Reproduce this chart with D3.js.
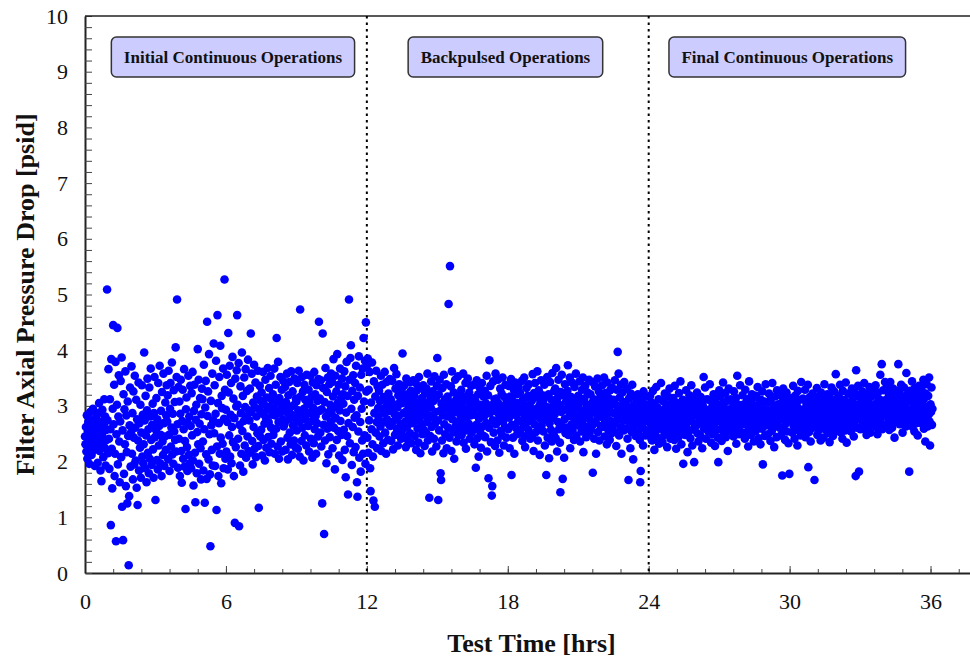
<!DOCTYPE html>
<html>
<head>
<meta charset="utf-8">
<script src="https://cdn.jsdelivr.net/npm/d3@7"></script>
<style>
  body { margin: 0; background: #fff; }
  text { font-family: "Liberation Serif", "Times New Roman", serif; }
</style>
</head>
<body>
<svg id="chart" width="970" height="660"></svg>
<script>
// Operating phases of the filter test
const phaseNames = ["Initial Continuous Operations", "Backpulsed Operations", "Final Continuous Operations"];
const phaseStart = [0, 12, 24];      // hrs
const phaseEnd = [12, 24, 36.1];     // hrs
const phaseBoundaries = [12, 24];    // hrs
const phaseLabelAt = [6.3, 17.9, 29.9];

// Axis ticks
const xTicks = [0, 6, 12, 18, 24, 30, 36];
const yTicks = [0, 1, 2, 3, 4, 5, 6, 7, 8, 9, 10];

// Filter axial pressure drop [psid], logged at a fixed rate through each phase
const initialDp = [
  2.45,2.31,2.62,2.18,2.83,2.05,2.54,2.71,2.38,1.96,2.47,2.89,2.26,2.58,2.12,2.74,2.41,2.95,2.33,2.21,2.66,1.92,2.52,2.79,2.37,
  2.28,2.61,1.98,2.87,2.43,3.05,2.19,2.56,1.84,2.72,1.65,2.49,2.93,2.34,2.08,2.66,3.12,2.25,2.81,1.93,2.57,2.39,5.09,2.74,2.15,
  3.66,2.41,1.87,3.12,2.58,0.86,3.84,2.23,1.52,2.95,4.45,2.67,3.38,1.74,2.14,3.79,0.57,2.49,3.02,4.40,1.95,2.81,3.55,2.36,1.63,
  2.72,3.45,2.08,3.87,1.19,2.56,0.59,3.21,1.78,2.94,2.31,3.62,1.56,2.83,2.17,1.25,3.08,2.46,0.14,1.38,2.65,3.33,1.91,2.52,3.71,
  2.14,2.87,1.68,3.26,2.43,1.95,3.54,2.61,2.02,3.11,1.53,2.76,1.22,2.38,3.42,1.84,2.69,2.25,3.02,1.71,2.52,3.37,2.09,2.84,1.97,
  2.31,3.96,2.74,1.88,3.18,2.47,1.63,2.92,3.49,2.16,2.58,1.79,3.33,2.05,2.81,3.67,2.39,1.94,2.66,3.04,2.22,1.71,2.87,3.52,2.44,
  1.31,2.57,3.14,2.03,2.76,1.86,3.41,2.29,2.64,3.72,1.97,2.48,2.91,1.74,3.25,2.36,2.12,3.58,2.69,1.92,2.45,3.06,2.21,2.83,3.37,
  2.72,3.19,2.04,3.63,2.48,1.83,2.95,3.41,2.27,2.61,3.78,2.13,2.86,1.96,3.28,2.54,3.07,2.39,4.05,2.18,3.52,4.91,2.67,1.89,3.34,
  2.41,3.08,1.74,2.86,3.47,2.19,1.62,2.73,3.29,2.05,2.58,3.66,1.91,2.37,1.15,2.94,3.15,2.26,1.83,2.69,3.54,2.12,2.81,1.97,3.36,
  2.64,1.88,3.23,2.47,3.61,2.02,1.57,2.91,3.38,2.16,1.27,2.75,3.02,1.79,2.53,4.02,2.31,3.47,1.96,2.68,3.14,2.24,1.68,2.85,3.31,
  3.12,2.36,1.84,3.74,2.58,1.26,2.97,3.45,2.13,1.69,4.51,2.82,3.26,2.04,3.93,2.49,1.77,0.48,3.09,2.65,2.21,3.58,1.93,2.74,4.12,
  2.51,3.37,1.92,2.86,3.81,1.13,2.27,4.63,3.05,1.74,2.69,3.52,2.14,4.08,2.43,1.61,3.18,2.96,2.32,3.67,1.88,2.77,5.27,3.29,2.05,
  2.93,2.18,3.56,2.71,1.86,4.31,3.24,2.47,3.72,2.09,2.84,3.41,1.97,2.62,3.88,2.35,3.13,1.74,2.78,0.90,3.49,2.26,2.99,3.64,4.63,
  3.02,2.41,3.77,0.84,2.66,1.93,3.35,2.87,2.14,3.96,2.55,3.18,1.82,2.73,3.51,2.29,2.98,3.66,2.07,2.81,3.27,2.45,3.83,2.19,2.92,
  2.74,3.31,2.16,4.30,2.89,3.58,2.37,1.95,3.06,2.62,3.74,2.23,2.97,3.42,2.08,2.81,3.17,2.51,3.63,2.28,1.17,2.94,3.36,2.45,3.09,
  2.57,3.24,2.11,2.86,3.61,2.39,3.03,2.68,2.02,3.47,2.79,2.25,3.15,2.93,3.68,2.44,2.71,3.32,2.17,2.99,3.54,2.61,2.32,3.11,2.84,
  3.21,2.48,2.95,3.67,2.14,2.83,3.38,2.59,4.22,3.06,2.27,3.79,2.71,2.05,3.14,2.88,3.52,2.36,2.97,3.29,2.18,2.76,3.45,2.63,3.02,
  2.68,3.34,2.21,3.07,2.89,3.58,2.43,2.04,3.19,2.76,3.43,2.52,2.97,2.31,3.62,2.84,2.12,3.26,2.65,3.01,2.38,3.49,2.79,2.26,3.13,
  3.08,2.56,3.41,2.23,2.92,3.63,2.71,2.09,4.73,3.17,2.84,2.37,3.52,2.61,3.26,2.02,2.95,3.38,2.47,3.11,2.75,2.29,3.56,2.88,3.03,
  2.64,3.29,2.18,3.05,2.87,3.54,2.41,3.16,2.73,2.07,3.42,2.96,2.33,3.61,2.58,3.21,2.82,2.14,3.37,2.69,3.09,2.45,3.48,4.51,2.91,
  3.13,2.52,3.46,2.27,2.94,1.25,4.30,3.32,2.66,0.70,3.07,2.38,3.68,2.81,1.97,3.25,2.59,3.51,2.13,2.89,3.39,2.44,3.02,2.71,3.58,
  2.86,3.43,2.24,3.17,3.84,2.61,2.97,1.86,3.54,2.78,3.26,2.39,3.93,3.05,2.55,3.38,2.11,2.92,3.67,2.73,3.14,2.48,3.49,2.03,3.21,
  3.04,2.57,3.62,2.21,3.35,1.72,2.88,3.79,2.46,3.18,1.41,2.69,4.91,3.47,2.33,3.86,4.09,2.95,1.94,3.27,2.62,3.55,2.17,3.11,2.79,
  3.41,2.26,3.72,2.83,1.63,1.37,3.18,2.54,3.89,2.07,3.33,2.71,1.82,3.56,2.95,2.38,3.67,2.14,4.22,3.08,2.47,3.81,1.96,4.50,3.26
];
const backpulsedDp = [
  3.72,2.43,3.85,2.16,3.29,2.74,3.61,1.88,1.47,3.06,2.58,3.78,2.31,2.09,1.30,3.44,2.87,1.19,3.17,2.52,3.63,2.71,2.24,3.35,2.96,
  2.81,3.27,2.45,3.09,2.63,3.54,2.19,2.94,3.38,2.71,2.33,3.16,2.87,3.61,2.52,2.98,2.14,3.43,2.76,3.05,2.39,3.22,2.67,2.91,3.48,
  2.64,3.12,2.37,2.93,3.45,2.71,2.22,3.03,3.68,2.85,2.48,3.31,2.76,3.57,2.59,2.97,2.29,3.19,2.82,3.39,2.53,3.08,2.68,2.41,3.26,
  3.05,3.94,2.58,2.87,3.36,2.44,3.13,2.72,2.26,3.49,2.91,2.63,3.21,2.38,3.02,2.79,3.42,2.51,2.95,3.27,2.33,2.84,3.11,2.69,3.46,
  2.77,3.18,2.46,2.99,3.41,2.21,2.86,3.28,2.59,3.06,2.34,3.52,2.73,2.92,2.15,3.33,2.64,3.14,2.49,2.83,3.37,2.57,3.01,2.28,3.23,
  2.94,2.52,3.31,2.71,3.58,2.38,3.07,2.83,1.35,3.19,2.46,2.97,3.44,2.62,2.18,3.26,2.79,3.09,2.41,3.53,2.68,2.89,3.14,2.27,3.36,
  3.86,2.74,1.31,3.21,2.56,3.47,2.91,1.79,1.67,3.04,2.38,3.32,2.83,2.15,3.56,2.67,3.12,2.49,2.96,3.39,2.24,2.81,3.17,2.61,4.83,
  3.08,2.43,5.51,2.87,3.35,2.19,3.62,2.76,2.98,2.53,3.24,2.05,2.89,3.47,2.64,3.11,2.36,3.01,2.72,3.53,2.47,2.93,3.19,2.58,2.84,
  2.71,3.29,2.48,3.06,2.87,3.58,2.34,2.95,3.17,2.62,3.41,2.23,2.79,3.12,2.56,3.49,2.91,2.68,3.24,2.41,3.03,2.83,3.36,2.52,2.97,
  3.14,2.57,2.92,3.38,2.31,2.84,3.09,1.89,2.66,3.46,2.42,2.98,3.21,2.09,2.77,3.33,2.54,3.02,2.25,2.88,3.41,2.63,2.95,3.17,2.46,
  2.82,3.27,2.44,3.05,2.69,3.54,2.18,2.93,3.19,1.70,2.61,3.82,2.87,3.36,2.35,3.01,1.39,1.56,2.74,3.44,2.52,2.96,3.12,2.28,3.58,
  2.67,3.13,2.89,2.38,3.47,2.76,3.04,2.16,2.93,3.31,2.55,2.84,3.22,2.47,3.51,2.71,2.99,2.29,3.16,2.62,3.38,2.81,2.43,3.07,2.91,
  3.02,2.58,3.36,2.79,2.24,3.17,2.91,3.48,1.76,2.66,3.09,2.43,2.87,3.29,2.14,2.97,3.42,2.61,2.83,3.21,2.49,3.05,2.72,3.34,2.56,
  2.88,3.24,2.51,3.06,2.73,3.45,2.37,2.95,3.13,2.62,3.51,2.84,2.26,3.01,2.69,3.32,2.47,2.92,3.18,2.57,3.39,2.78,2.99,2.41,3.11,
  2.73,3.09,2.46,3.57,2.86,2.19,3.23,2.67,3.41,2.94,2.53,3.15,2.81,3.62,2.38,2.97,3.28,2.59,2.12,3.04,2.77,3.46,2.65,2.89,3.19,
  3.07,2.54,2.91,3.38,2.29,3.16,2.75,1.76,2.98,3.52,2.43,2.84,3.21,2.06,2.69,3.43,2.92,2.57,3.11,2.36,3.59,2.78,3.01,2.48,3.27,
  2.85,3.31,2.42,3.68,2.97,2.18,3.14,2.71,3.47,2.58,3.02,2.34,1.45,3.25,2.89,3.56,2.63,1.69,2.94,3.19,2.07,2.76,3.39,2.51,3.08,
  2.93,2.61,3.27,3.73,2.48,3.04,2.82,3.51,2.24,2.97,3.16,2.67,3.42,2.55,2.88,3.09,2.39,3.34,2.74,2.99,3.58,2.46,3.12,2.81,2.65,
  3.18,2.72,2.95,3.44,2.36,3.07,2.83,2.54,3.29,2.68,3.51,2.17,2.91,3.13,2.59,3.36,2.79,2.44,3.02,2.87,3.24,2.63,2.98,3.47,2.51,
  2.76,3.21,2.58,3.04,2.89,3.43,1.80,2.67,3.12,2.41,2.96,3.35,2.72,2.14,3.07,2.84,3.49,2.53,2.99,3.26,2.38,2.81,3.16,2.64,3.03,
  2.94,3.37,2.62,3.09,2.78,3.51,2.45,2.92,3.23,2.69,3.04,2.31,3.42,2.86,2.57,3.14,2.97,2.39,3.28,2.73,3.06,2.51,3.33,2.88,2.66,
  3.11,2.54,2.87,3.46,2.69,3.02,2.28,3.29,2.76,3.97,2.93,3.58,2.47,3.15,2.82,2.61,3.38,2.14,2.99,3.24,2.73,3.07,2.56,3.43,2.88,
  2.83,3.06,2.59,2.94,3.31,2.41,2.77,1.67,3.13,2.68,2.97,2.24,3.22,2.86,2.53,3.38,2.72,2.04,3.01,2.63,2.91,3.17,2.46,2.79,3.09,
  2.68,2.97,3.21,2.52,2.84,3.08,2.39,1.63,1.83,2.76,3.14,2.61,2.93,2.29,3.26,2.71,2.88,3.03,2.47,2.81,3.17,2.56,2.95,2.74,3.02
];
const finalDp = [
  2.71,2.94,2.46,3.18,2.83,2.57,3.06,2.38,2.89,3.27,2.64,2.77,2.21,3.01,2.52,2.86,3.34,2.69,2.43,2.97,2.75,3.12,2.32,2.81,2.59,
  2.88,3.41,2.62,2.79,2.35,3.09,2.71,2.93,2.48,3.22,2.84,2.56,3.03,2.67,2.26,2.91,3.17,2.74,2.53,3.31,2.82,2.41,2.98,2.65,3.07,
  2.76,2.52,3.14,2.87,2.39,3.36,2.68,2.95,2.23,2.81,3.05,2.61,2.92,2.44,3.23,2.73,2.57,3.44,2.85,2.31,2.99,2.66,3.11,1.96,2.78,
  3.02,2.69,2.48,2.93,3.28,2.61,2.84,2.17,3.07,2.75,2.54,3.19,2.88,2.42,2.96,3.37,2.72,2.29,2.83,3.13,2.58,1.99,2.91,2.67,3.04,
  2.64,2.97,3.24,2.51,2.82,2.36,3.08,2.74,2.93,2.47,3.16,2.69,2.87,2.24,3.01,2.78,3.52,2.59,2.95,3.33,2.63,2.41,2.89,3.12,2.76,
  2.86,2.54,3.11,2.73,3.39,2.62,2.95,2.34,2.81,3.06,2.49,2.77,3.21,2.66,2.92,2.28,3.14,2.71,2.57,3.03,2.84,2.43,1.99,2.97,3.28,
  2.79,3.17,2.58,2.91,2.37,3.04,2.68,3.42,2.85,2.52,2.96,2.74,3.23,2.44,2.88,3.09,2.61,2.19,2.83,3.31,2.67,2.94,2.55,3.12,2.72,
  2.93,2.61,3.07,2.78,2.45,3.26,2.84,2.57,2.99,3.14,2.32,2.71,3.54,2.87,2.64,3.02,2.49,2.91,3.37,2.76,2.53,2.96,2.68,3.19,2.82,
  2.67,3.03,2.86,2.41,3.29,2.74,2.96,2.53,3.12,2.81,2.27,2.93,3.44,2.62,2.78,3.07,2.48,2.89,3.21,2.71,2.58,3.01,2.36,2.84,3.15,
  2.91,2.55,3.18,2.77,2.63,3.34,2.86,2.42,3.04,2.72,2.97,2.31,3.11,2.83,2.59,3.26,1.95,2.69,2.94,3.08,2.46,2.79,3.39,2.65,2.88,
  2.73,3.06,2.49,2.92,3.22,2.66,2.84,2.37,3.13,2.78,2.55,3.41,2.89,2.62,3.01,2.26,2.81,3.17,2.71,2.95,2.44,3.28,2.68,2.87,3.03,
  2.84,2.61,3.19,2.93,2.47,3.05,2.76,1.75,2.98,3.31,2.58,2.82,3.12,2.39,2.91,2.69,3.24,2.54,2.87,3.07,2.33,2.74,1.78,2.96,3.14,
  2.97,2.72,3.09,2.52,2.86,3.36,2.64,2.91,2.41,3.18,2.79,2.57,3.02,2.88,2.29,3.27,2.74,2.95,2.62,3.11,2.83,2.47,3.43,2.69,2.92,
  2.81,3.13,2.56,2.94,2.73,3.29,2.44,2.87,3.04,2.66,2.99,3.38,1.90,2.78,2.53,3.16,2.85,2.36,3.07,2.71,2.93,3.22,2.61,2.89,3.01,
  1.67,2.76,3.08,2.63,2.91,3.32,2.48,2.84,3.17,2.71,2.57,3.03,2.92,2.38,3.24,2.79,2.66,3.11,2.86,2.43,2.97,3.39,2.74,2.58,3.05,
  2.94,2.68,3.21,2.82,2.51,3.06,2.87,2.35,3.14,2.73,2.96,3.33,2.62,2.89,2.46,3.09,2.77,3.26,2.58,2.99,3.57,2.71,2.84,3.12,2.55,
  2.86,3.18,2.63,2.97,3.38,2.74,2.52,3.03,2.89,2.41,3.27,2.81,2.69,3.11,2.93,2.56,3.42,2.78,2.34,3.05,2.88,2.64,3.22,2.95,2.72,
  2.79,3.07,2.54,2.92,3.31,2.68,2.86,3.14,2.45,2.97,3.23,2.73,1.74,3.64,2.88,2.61,3.02,3.36,2.77,1.82,2.94,3.17,2.58,2.83,3.09,
  2.91,3.26,2.67,3.04,2.82,3.41,2.59,2.96,3.13,2.74,2.48,3.22,2.87,3.07,2.63,2.99,3.34,2.78,2.52,3.16,2.93,2.71,3.29,2.84,3.01,
  2.96,2.73,3.19,2.88,3.37,2.62,3.05,2.81,2.49,3.24,2.94,2.69,3.12,2.86,3.56,2.77,3.02,3.75,2.58,2.91,3.28,2.66,3.08,2.84,3.43,
  2.84,3.11,2.92,3.36,2.68,3.04,2.79,3.22,2.57,2.97,3.43,2.73,3.15,2.89,2.61,3.08,3.31,2.76,2.94,2.43,3.19,2.87,3.02,2.71,3.27,
  3.06,2.81,3.75,2.93,3.24,2.67,3.12,2.89,3.38,2.74,2.98,2.52,3.17,2.86,3.33,2.71,3.04,2.92,2.63,3.59,2.95,3.21,2.78,3.09,2.84,
  1.82,2.91,3.27,2.74,3.08,2.86,3.44,2.62,2.97,3.15,2.79,2.54,3.32,2.88,3.03,2.69,3.21,2.93,2.47,3.11,2.83,3.36,2.72,2.99,3.18,
  2.94,3.29,2.68,3.07,2.85,3.47,2.59,3.14,2.91,2.36,3.22,2.77,3.39,2.98,2.63,3.18,2.84,3.51,2.72,2.29,3.03,2.89,3.33,2.66,2.95
];

const phaseSeries = [initialDp, backpulsedDp, finalDp];

// ---- layout ----
const svg = d3.select("#chart");
const plot = { left: 85, right: 970, top: 16, bottom: 573 };

const x = d3.scaleLinear().domain([0, 37.68]).range([plot.left, plot.right]);
const y = d3.scaleLinear().domain([0, 10]).range([plot.bottom, plot.top]);

// samples: each phase logged at an even rate between its start and end time
const samples = [];
phaseSeries.forEach((vals, p) => {
  const dt = (phaseEnd[p] - phaseStart[p]) / vals.length;
  vals.forEach((v, i) => samples.push({ t: phaseStart[p] + i * dt, dp: v }));
});

// ---- axes ----
const xMinor = d3.range(0, 32).map(i => +(i * 1.2).toFixed(2));
const yMinor = d3.range(0, 51).map(i => +(i * 0.2).toFixed(2));

function styleAxis(g, w) {
  g.select(".domain").attr("stroke", "#222").attr("stroke-width", w);
  g.selectAll(".tick line").attr("stroke", "#444").attr("stroke-width", 1);
}

// x axis: minor ticks, then labelled major ticks
svg.append("g")
  .attr("transform", `translate(0,${plot.bottom})`)
  .call(d3.axisBottom(x).tickValues(xMinor).tickSizeInner(-4).tickSizeOuter(0).tickFormat(""))
  .call(g => styleAxis(g, 2));

svg.append("g")
  .attr("transform", `translate(0,${plot.bottom})`)
  .call(d3.axisBottom(x).tickValues(xTicks).tickSizeInner(-7).tickSizeOuter(0).tickPadding(20))
  .call(g => { g.select(".domain").remove(); g.selectAll(".tick line").attr("stroke", "#444"); })
  .call(g => g.selectAll(".tick text")
    .attr("font-size", 22).attr("fill", "#111")
    .style("font-family", '"Liberation Serif", serif'));

// y axis
svg.append("g")
  .attr("transform", `translate(${plot.left},0)`)
  .call(d3.axisLeft(y).tickValues(yMinor).tickSizeInner(-7).tickSizeOuter(0).tickFormat(""))
  .call(g => styleAxis(g, 2));

svg.append("g")
  .attr("transform", `translate(${plot.left},0)`)
  .call(d3.axisLeft(y).tickValues(yTicks).tickSizeInner(0).tickSizeOuter(0).tickPadding(17))
  .call(g => { g.select(".domain").remove(); g.selectAll(".tick line").remove(); })
  .call(g => g.selectAll(".tick text")
    .attr("font-size", 22).attr("fill", "#111")
    .style("font-family", '"Liberation Serif", serif'));

// top frame line
svg.append("line")
  .attr("x1", plot.left).attr("x2", plot.right)
  .attr("y1", plot.top).attr("y2", plot.top)
  .attr("stroke", "#222").attr("stroke-width", 1.5);

// phase boundaries
svg.append("g").selectAll("line")
  .data(phaseBoundaries)
  .join("line")
  .attr("x1", d => x(d)).attr("x2", d => x(d))
  .attr("y1", plot.top).attr("y2", plot.bottom)
  .attr("stroke", "#000").attr("stroke-width", 2)
  .attr("stroke-dasharray", "2.5,4");

// ---- data points ----
svg.append("g").selectAll("circle")
  .data(samples)
  .join("circle")
  .attr("cx", d => x(d.t))
  .attr("cy", d => y(d.dp))
  .attr("r", 4.3)
  .attr("fill", "#0000ff");

// ---- phase labels ----
const labelG = svg.append("g").selectAll("g")
  .data(phaseNames)
  .join("g")
  .attr("transform", (d, i) => `translate(${x(phaseLabelAt[i])},57)`);

labelG.append("rect").attr("class", "box");
labelG.append("text")
  .attr("text-anchor", "middle")
  .attr("dy", "0.35em")
  .attr("font-size", 17)
  .attr("font-weight", "bold")
  .attr("fill", "#111")
  .text(d => d);

labelG.each(function () {
  const g = d3.select(this);
  const w = g.select("text").node().getComputedTextLength() + 25;
  g.select("rect")
    .attr("x", -w / 2).attr("y", -20)
    .attr("width", w).attr("height", 40)
    .attr("rx", 5).attr("ry", 5)
    .attr("fill", "#ccccff")
    .attr("stroke", "#333").attr("stroke-width", 1.5);
});

// ---- axis titles ----
svg.append("text")
  .attr("x", (plot.left + plot.right) / 2 + 4)
  .attr("y", 652)
  .attr("text-anchor", "middle")
  .attr("font-size", 26).attr("font-weight", "bold").attr("fill", "#111")
  .text("Test Time [hrs]");

svg.append("text")
  .attr("transform", `translate(34,${(plot.top + plot.bottom) / 2}) rotate(-90)`)
  .attr("text-anchor", "middle")
  .attr("font-size", 26).attr("font-weight", "bold").attr("fill", "#111")
  .text("Filter Axial Pressure Drop [psid]");
</script>
</body>
</html>
